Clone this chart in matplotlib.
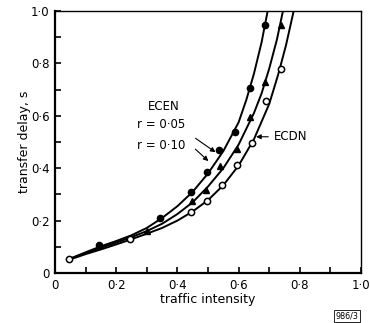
import numpy as np
import matplotlib
matplotlib.use("Agg")
import matplotlib.pyplot as plt

# smooth curves
ecen05_x = [0.05, 0.10, 0.15, 0.20, 0.25, 0.30, 0.35, 0.40, 0.45, 0.50, 0.55, 0.60, 0.625, 0.65, 0.675, 0.695, 0.70]
ecen05_y = [0.055, 0.079, 0.102, 0.122, 0.144, 0.172, 0.21, 0.255, 0.31, 0.38, 0.465, 0.575, 0.66, 0.76, 0.88, 1.0, 1.03]
ecen10_x = [0.05, 0.10, 0.15, 0.20, 0.25, 0.30, 0.35, 0.40, 0.45, 0.50, 0.55, 0.60, 0.65, 0.675, 0.70, 0.725, 0.745, 0.75]
ecen10_y = [0.055, 0.076, 0.096, 0.116, 0.137, 0.16, 0.188, 0.225, 0.27, 0.33, 0.40, 0.49, 0.61, 0.685, 0.78, 0.89, 1.0, 1.03]
ecdn_x = [0.05, 0.10, 0.15, 0.20, 0.25, 0.30, 0.35, 0.40, 0.45, 0.50, 0.55, 0.60, 0.65, 0.70, 0.73, 0.755, 0.78, 0.785]
ecdn_y = [0.052, 0.072, 0.09, 0.109, 0.129, 0.15, 0.172, 0.20, 0.235, 0.278, 0.335, 0.41, 0.51, 0.645, 0.76, 0.87, 1.0, 1.03]

# measured points
pts05_x = [0.145, 0.343, 0.444, 0.496, 0.536, 0.588, 0.637, 0.686]
pts05_y = [0.106, 0.21, 0.31, 0.387, 0.47, 0.539, 0.707, 0.947]
pts10_x = [0.30, 0.447, 0.492, 0.539, 0.594, 0.637, 0.686, 0.738]
pts10_y = [0.16, 0.276, 0.317, 0.41, 0.472, 0.597, 0.73, 0.947]
ptsdn_x = [0.047, 0.245, 0.444, 0.496, 0.545, 0.594, 0.643, 0.688, 0.737]
ptsdn_y = [0.052, 0.128, 0.234, 0.276, 0.336, 0.412, 0.497, 0.655, 0.777]

tick_vals = [0, 0.2, 0.4, 0.6, 0.8, 1.0]
tick_text = ["0", "0·2", "0·4", "0·6", "0·8", "1·0"]

fig = plt.figure(figsize=(3.70, 3.23), dpi=100)
ax = fig.add_axes([55/370, 50/323, 306/370, 262/323])

lw = 1.4
ax.plot(ecen05_x, ecen05_y, color="black", lw=lw, solid_capstyle="round")
ax.plot(ecen10_x, ecen10_y, color="black", lw=lw, solid_capstyle="round")
ax.plot(ecdn_x, ecdn_y, color="black", lw=lw, solid_capstyle="round")

ax.plot(pts05_x, pts05_y, "o", color="black", ms=4.5, zorder=3)
ax.plot(pts10_x, pts10_y, "^", color="black", ms=4.8, zorder=3)
ax.plot(ptsdn_x, ptsdn_y, "o", mfc="white", mec="black", mew=1.1, ms=4.5, zorder=3)

ax.set_xlim(0, 1.0)
ax.set_ylim(0, 1.0)
ax.set_xticks(tick_vals)
ax.set_xticklabels(tick_text)
ax.set_yticks(tick_vals)
ax.set_yticklabels(tick_text)
ax.set_xticks(np.arange(0.1, 1.0, 0.2), minor=True)
ax.set_yticks(np.arange(0.1, 1.0, 0.2), minor=True)
ax.tick_params(which="both", direction="in", length=4, width=1.2,
               top=False, right=False, labelsize=8.5, color="black")
ax.tick_params(axis="x", pad=4)
ax.tick_params(axis="y", pad=4)
for s in ["left", "bottom"]:
    ax.spines[s].set_linewidth(1.6)
for s in ["top", "right"]:
    ax.spines[s].set_linewidth(1.0)

ax.set_xlabel("traffic intensity", fontsize=9)
ax.xaxis.set_label_coords(0.5, -0.078)
ax.set_ylabel("transfer delay, s", fontsize=9, labelpad=0)

# annotations
ax.text(0.305, 0.635, "ECEN", fontsize=8.5, ha="left", va="center")
ax.text(0.268, 0.565, "r = 0·05", fontsize=8.5, ha="left", va="center")
ax.text(0.268, 0.485, "r = 0·10", fontsize=8.5, ha="left", va="center")
ax.annotate("", xy=(0.532, 0.455), xytext=(0.452, 0.52),
            arrowprops=dict(arrowstyle="-|>", color="black", lw=0.8, mutation_scale=7))
ax.annotate("", xy=(0.508, 0.42), xytext=(0.452, 0.48),
            arrowprops=dict(arrowstyle="-|>", color="black", lw=0.8, mutation_scale=7))
ax.annotate("ECDN", xy=(0.648, 0.52), xytext=(0.715, 0.52),
            fontsize=8.5, ha="left", va="center",
            arrowprops=dict(arrowstyle="-|>", color="black", lw=0.8, mutation_scale=7))

fig.text(347/370, 1 - 316/323, "986/3", fontsize=5.8, ha="center", va="center",
         bbox=dict(boxstyle="square,pad=0.2", fc="white", ec="black", lw=0.6))

fig.savefig("out.png", dpi=100)
